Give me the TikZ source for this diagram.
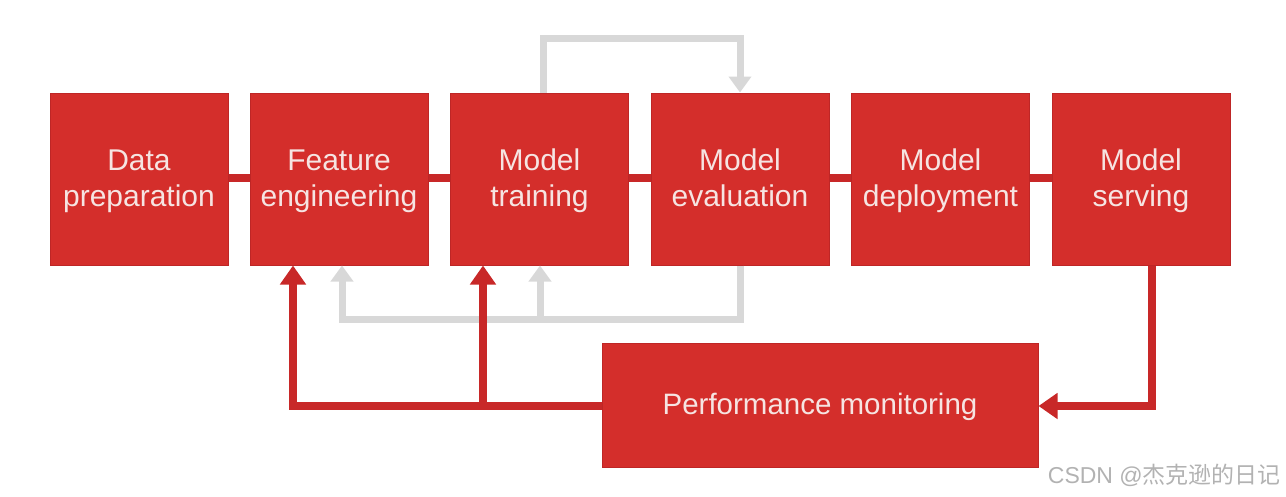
\documentclass[tikz,border=0pt]{standalone}
\usepackage{fontspec}
\setmainfont{Liberation Sans}
\newfontfamily\cjk{Noto Sans CJK SC}
\usetikzlibrary{arrows.meta}
\definecolor{boxred}{RGB}{212,46,43}
\definecolor{edgered}{RGB}{190,38,38}
\definecolor{linered}{RGB}{200,40,40}
\definecolor{loopgray}{RGB}{216,216,216}
\definecolor{txt}{RGB}{246,228,226}
\definecolor{wm}{RGB}{178,178,178}
\newcommand\twolines[2]{\rule{0pt}{25pt}#1\\#2\rule[-6pt]{0pt}{6pt}}
\tikzset{
  stagebox/.style={fill=boxred, draw=edgered, line width=1pt, minimum width=178pt, minimum height=172pt,
    inner sep=0pt, align=center, text=txt, font=\fontsize{30}{35.5}\selectfont},
  monbox/.style={stagebox, minimum width=436pt, minimum height=124pt},
  redlink/.style={draw=linered, line width=8pt},
  redarrow/.style={draw=linered, line width=8pt, -{Triangle[width=25pt,length=19pt]}},
  grayarrow/.style={draw=loopgray, line width=7pt, -{Triangle[width=22pt,length=16pt]}},
}
\begin{document}
\begin{tikzpicture}[x=1pt,y=-1pt]
\useasboundingbox (0,0) rectangle (1286,496);
% coordinates for connector routing
\coordinate (tl) at (543,38);
\coordinate (tr) at (740,38);
\coordinate (gbr) at (740,319);
\coordinate (gbl) at (342,319);
\coordinate (gbm) at (540,319);
\coordinate (rsr) at (1152,406);
\coordinate (rbl) at (293,406);
\coordinate (rbm) at (483,406);

% stage links (behind boxes)
\draw[redlink] (139,178) -- (1141,178);

\node[stagebox] (prep) at (139,179) {\twolines{Data}{preparation}};
\node[stagebox] (feat) at (339,179) {\twolines{Feature}{engineering}};
\node[stagebox] (train) at (539.5,179) {\twolines{Model}{training}};
\node[stagebox] (eval) at (740,179) {\twolines{Model}{evaluation}};
\node[stagebox] (deploy) at (940.5,179) {\twolines{Model}{deployment}};
\node[stagebox] (serve) at (1141,179) {\twolines{Model}{serving}};
\node[monbox] (mon) at (820,405) {};
\node[anchor=base, text=txt, font=\fontsize{29.5}{35}\selectfont, inner sep=0pt] (montxt) at (820,414) {Performance monitoring};

% gray loops
\draw[grayarrow] (train.north -| tl) -- (tl) -- (tr) -- (eval.north -| tr);
\draw[grayarrow] (eval.south -| gbr) -- (gbr) -- (gbl) -- (feat.south -| gbl);
\draw[grayarrow] (gbm) -- (train.south -| gbm);

% red feedback
\draw[redarrow] (serve.south -| rsr) -- (rsr) -- (mon.east |- rsr);
\draw[redarrow] (mon.west |- rbl) -- (rbl) -- (feat.south -| rbl);
\draw[redarrow] (rbm) -- (train.south -| rbm);

\node[anchor=base east, text=wm, font=\fontsize{23}{23}\selectfont, inner sep=0pt] (wmk) at (1281,483) {CSDN @{\cjk 杰克逊的日记}};
\end{tikzpicture}
\end{document}
